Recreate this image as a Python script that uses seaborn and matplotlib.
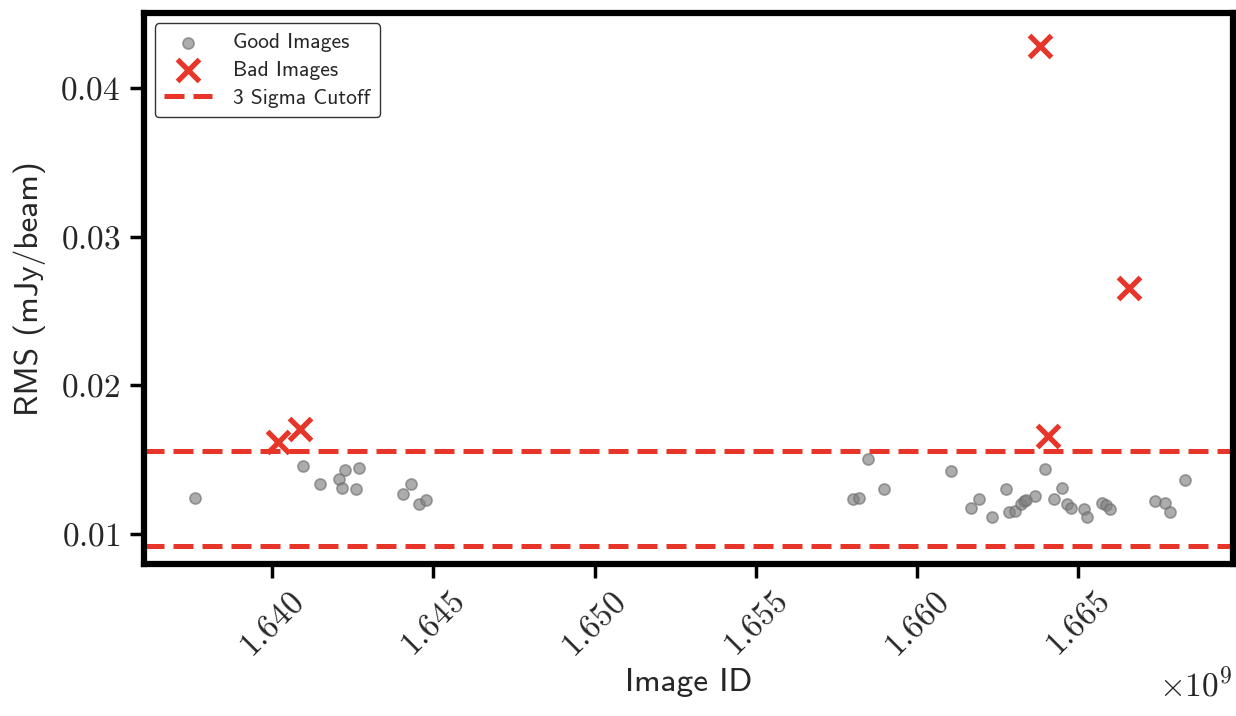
import numpy as np
import pandas as pd
import matplotlib
matplotlib.use("Agg")
import matplotlib.pyplot as plt
import seaborn as sns

# Image IDs and RMS noise of images passing the cut
good_ids = [1.63761e9, 1.64095e9, 1.64149e9, 1.64209e9, 1.64227e9, 1.64218e9,
            1.64271e9, 1.64259e9, 1.64407e9, 1.64432e9, 1.64457e9, 1.64476e9,
            1.65802e9, 1.65820e9, 1.65848e9, 1.65897e9, 1.66106e9, 1.66166e9,
            1.66193e9, 1.66232e9, 1.66277e9, 1.66286e9, 1.66302e9, 1.66321e9,
            1.66331e9, 1.66339e9, 1.66364e9, 1.66396e9, 1.66425e9, 1.66450e9,
            1.66465e9, 1.66476e9, 1.66518e9, 1.66526e9, 1.66572e9, 1.66587e9,
            1.66598e9, 1.66736e9, 1.66769e9, 1.66784e9, 1.66830e9]
good_rms = [0.01244, 0.01459, 0.01334, 0.01370, 0.01432, 0.01307,
            0.01442, 0.01301, 0.01271, 0.01334, 0.01200, 0.01229,
            0.01235, 0.01244, 0.01502, 0.01301, 0.01424, 0.01175,
            0.01235, 0.01112, 0.01301, 0.01146, 0.01157, 0.01200,
            0.01224, 0.01229, 0.01256, 0.01439, 0.01235, 0.01307,
            0.01200, 0.01173, 0.01166, 0.01112, 0.01211, 0.01193,
            0.01166, 0.01220, 0.01211, 0.01146, 0.01361]

# Images rejected by the 3 sigma cut
bad_ids = [1.64018e9, 1.64087e9, 1.66381e9, 1.66406e9, 1.66657e9]
bad_rms = [0.01617, 0.01706, 0.04282, 0.01661, 0.02656]

# 3 sigma cutoff levels
cutoffs = [0.0156, 0.0092]

good = pd.DataFrame({"Image ID": good_ids, "RMS": good_rms})
bad = pd.DataFrame({"Image ID": bad_ids, "RMS": bad_rms})

sns.set_theme(style="white")
plt.rcParams["font.family"] = ["cmr10"]
plt.rcParams["mathtext.fontset"] = "cm"
plt.rcParams["axes.formatter.use_mathtext"] = True
plt.rcParams["axes.unicode_minus"] = False

red = "#e8352a"
sans = "cmss10"

fig = plt.figure(figsize=(12.36, 7.16), dpi=100)
ax = fig.add_axes([0.1165, 0.2123, 0.881, 0.770])

sns.scatterplot(data=good, x="Image ID", y="RMS", ax=ax, color="#808080",
                alpha=0.65, s=64, edgecolor="#707070", linewidth=1.2,
                label="Good Images", zorder=3)
sns.scatterplot(data=bad, x="Image ID", y="RMS", ax=ax, color=red,
                marker="x", s=250, linewidth=3.8, label="Bad Images", zorder=4)
for i, c in enumerate(cutoffs):
    ax.axhline(c, color=red, lw=3.6, dashes=(4.0, 1.8),
               label="3 Sigma Cutoff" if i == 0 else None, zorder=2)

ax.set_xlim(1.63603e9, 1.66979e9)
ax.set_ylim(0.00798, 0.04506)
ax.set_xticks([1.640e9, 1.645e9, 1.650e9, 1.655e9, 1.660e9, 1.665e9])
ax.set_yticks([0.01, 0.02, 0.03, 0.04])

for sp in ax.spines.values():
    sp.set_linewidth(4.5)
    sp.set_color("black")

ax.tick_params(axis="both", which="major", direction="out", length=10,
               width=2.5, color="black", labelsize=24, pad=7,
               bottom=True, left=True)
plt.setp(ax.get_xticklabels(), rotation=45, ha="center")
ax.xaxis.get_offset_text().set_fontsize(24)

ax.set_xlabel("Image ID", family=sans, fontsize=24, labelpad=4)
ax.set_ylabel("RMS (mJy/beam)", family=sans, fontsize=24, labelpad=10)

leg = ax.legend(loc="upper left", prop={"family": sans, "size": 15.5},
                frameon=True, fancybox=True, edgecolor="#333333",
                framealpha=1.0, borderpad=0.45, labelspacing=0.4,
                handlelength=2.2, handletextpad=1.0,
                bbox_to_anchor=(0.0, 1.0))
leg.get_frame().set_linewidth(1.0)

fig.savefig("out.png", dpi=100)
